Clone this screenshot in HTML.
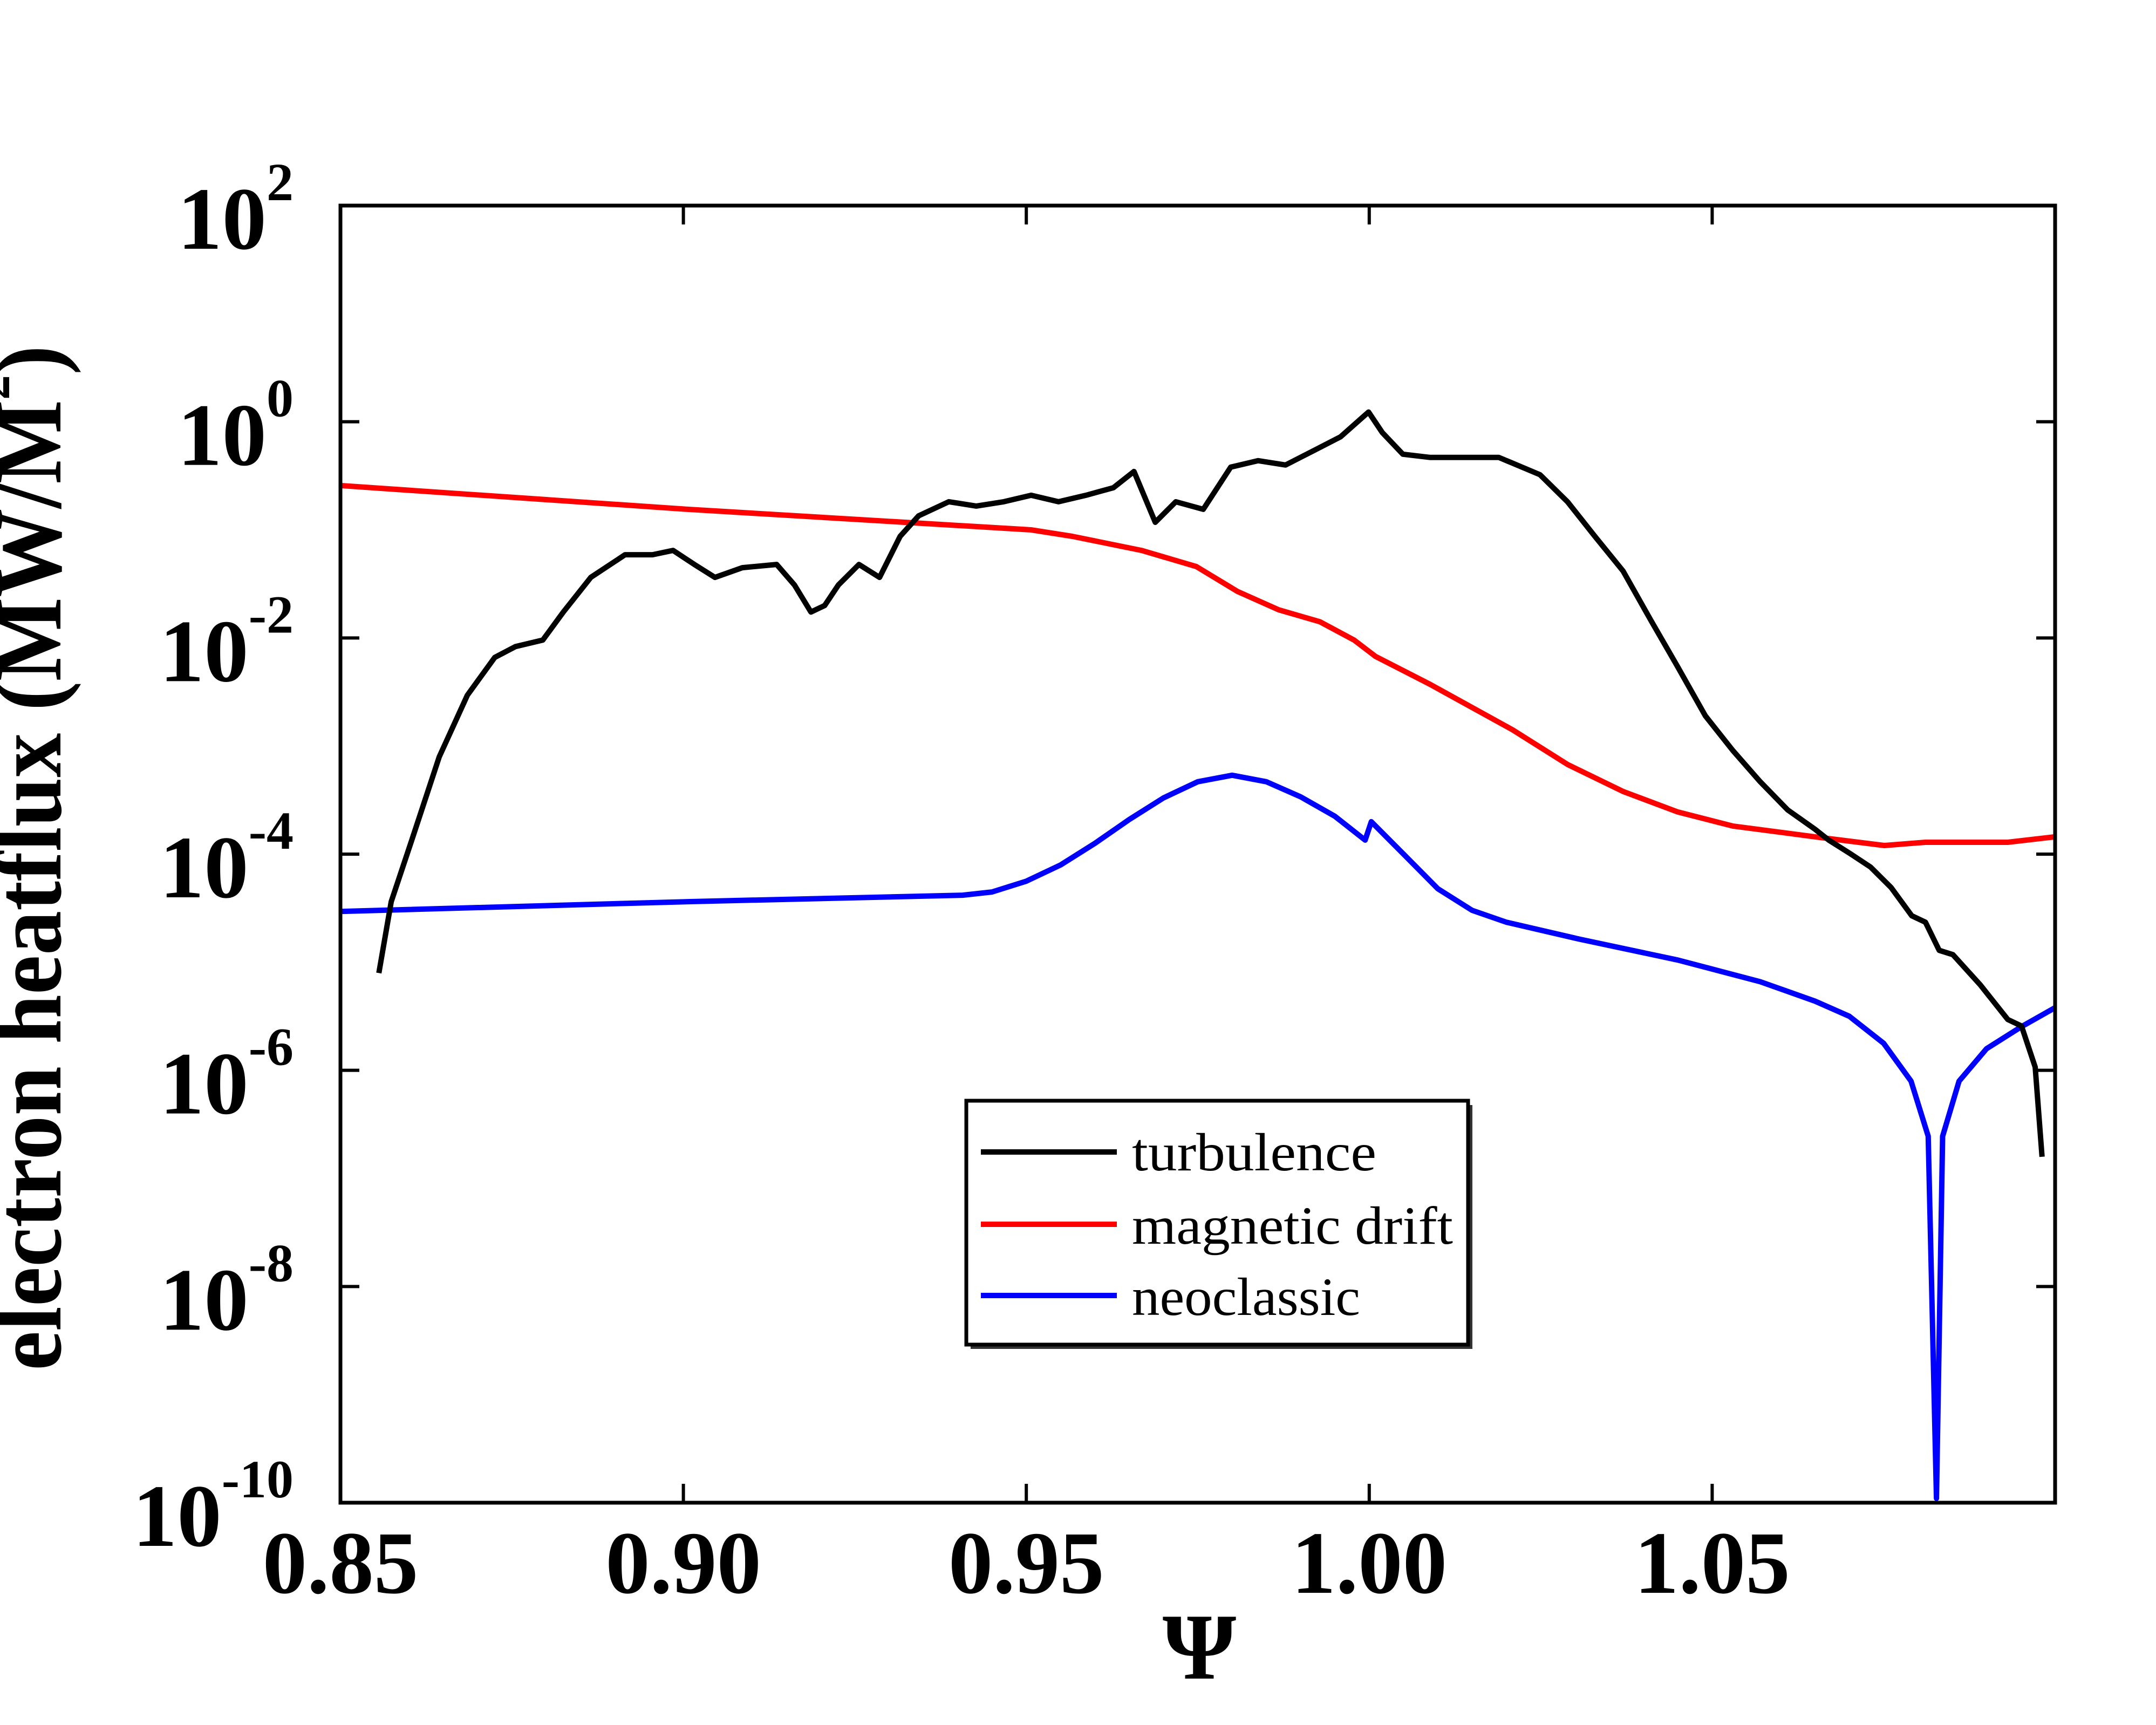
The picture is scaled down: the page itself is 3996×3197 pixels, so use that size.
<!DOCTYPE html>
<html><head><meta charset="utf-8"><style>
html,body{margin:0;padding:0;background:#fff;}
svg{display:block;}
text{font-family:"Liberation Serif",serif;}
</style></head><body>
<svg id="chart" width="3996" height="3197" viewBox="0 0 3996 3197" xmlns="http://www.w3.org/2000/svg">
<rect x="0" y="0" width="3996" height="3197" fill="#fff"/>
<g id="plot"></g>
<g id="axes"></g>
<text transform="translate(112,1590) rotate(-90)" text-anchor="middle" font-weight="bold" font-size="178" textLength="1900" lengthAdjust="spacingAndGlyphs">electron heatflux (MW/M<tspan font-size="100" dy="-95">2</tspan><tspan dy="95">)</tspan></text>
<text x="2223" y="3111" text-anchor="middle" font-weight="bold" font-size="175">Ψ</text>
<g>
  <rect x="1799" y="2048" width="930" height="452" fill="#333"/>
  <rect x="1791" y="2040" width="930" height="452" fill="#fff" stroke="#000" stroke-width="7"/>
  <line x1="1818" y1="2135" x2="2070" y2="2135" stroke="#000" stroke-width="10"/>
  <text x="2098" y="2169" font-size="100" textLength="453" lengthAdjust="spacingAndGlyphs">turbulence</text>
  <line x1="1818" y1="2269" x2="2070" y2="2269" stroke="#ff0000" stroke-width="10"/>
  <text x="2098" y="2305" font-size="100" textLength="595" lengthAdjust="spacingAndGlyphs">magnetic drift</text>
  <line x1="1818" y1="2401" x2="2070" y2="2401" stroke="#0000ff" stroke-width="10"/>
  <text x="2098" y="2437" font-size="100" textLength="423" lengthAdjust="spacingAndGlyphs">neoclassic</text>
</g>
</svg>
<script>
const xTicks = [0.85, 0.90, 0.95, 1.00, 1.05];
const xTickLabels = ["0.85", "0.90", "0.95", "1.00", "1.05"];
const yTickExps = [2, 0, -2, -4, -6, -8, -10];
const turbX = [0.8556,0.8574,0.8604,0.8644,0.8685,0.8725,0.8755,0.8795,0.8825,0.8865,0.8915,0.8955,0.8985,0.9016,0.9046,0.9086,0.9136,0.9162,0.9186,0.9206,0.9226,0.9256,0.9286,0.9316,0.9343,0.9387,0.9427,0.9467,0.9507,0.9547,0.9587,0.9627,0.9657,0.9688,0.9718,0.9758,0.9798,0.9838,0.9878,0.9918,0.9958,0.9999,1.0019,1.0049,1.0089,1.0189,1.0249,1.0289,1.0329,1.0370,1.0410,1.0450,1.0490,1.0530,1.0570,1.0610,1.0650,1.0670,1.0700,1.0731,1.0761,1.0791,1.0811,1.0831,1.0851,1.0891,1.0931,1.0951,1.0971,1.0981];
const turbLog = [-5.10,-4.44,-3.87,-3.10,-2.53,-2.18,-2.08,-2.02,-1.76,-1.44,-1.23,-1.23,-1.19,-1.32,-1.44,-1.35,-1.32,-1.51,-1.76,-1.70,-1.51,-1.32,-1.44,-1.06,-0.87,-0.74,-0.78,-0.74,-0.68,-0.74,-0.68,-0.61,-0.46,-0.93,-0.74,-0.81,-0.42,-0.36,-0.40,-0.27,-0.14,0.09,-0.10,-0.30,-0.33,-0.33,-0.49,-0.74,-1.06,-1.38,-1.83,-2.27,-2.72,-3.04,-3.33,-3.59,-3.77,-3.87,-3.99,-4.12,-4.31,-4.57,-4.63,-4.89,-4.93,-5.21,-5.53,-5.59,-5.97,-6.80];
const driftX = [0.85,0.9006,0.9507,0.9567,0.9668,0.9748,0.9808,0.9868,0.9928,0.9978,1.0009,1.0089,1.0209,1.0289,1.0370,1.0450,1.0530,1.0650,1.0751,1.0811,1.0931,1.10];
const driftLog = [-0.59,-0.81,-1.00,-1.06,-1.19,-1.34,-1.57,-1.74,-1.85,-2.02,-2.17,-2.43,-2.85,-3.17,-3.42,-3.61,-3.74,-3.84,-3.92,-3.89,-3.89,-3.84];
const neoX = [0.85,0.9006,0.9407,0.945,0.950,0.955,0.960,0.965,0.970,0.975,0.980,0.985,0.990,0.995,0.9994,1.0003,1.005,1.010,1.015,1.020,1.0309,1.0450,1.0570,1.065,1.070,1.075,1.079,1.0815,1.0827,1.0836,1.086,1.090,1.095,1.10];
const neoLog = [-4.53,-4.44,-4.38,-4.35,-4.25,-4.10,-3.90,-3.68,-3.48,-3.33,-3.27,-3.33,-3.47,-3.65,-3.87,-3.70,-4.00,-4.32,-4.52,-4.63,-4.79,-4.98,-5.18,-5.36,-5.50,-5.75,-6.10,-6.61,-9.96,-6.61,-6.10,-5.80,-5.60,-5.42];

const NS = "http://www.w3.org/2000/svg";
const L = 631, R = 3809, T = 381, B = 2785;
const xMin = 0.85, xMax = 1.10, yMin = -10, yMax = 2;
function sx(v){ return L + (v - xMin) / (xMax - xMin) * (R - L); }
function sy(lg){ return B - (lg - yMin) / (yMax - yMin) * (B - T); }
function mk(tag, attrs){ const e = document.createElementNS(NS, tag); for (const k in attrs) e.setAttribute(k, attrs[k]); return e; }

const plot = document.getElementById('plot');
const axes = document.getElementById('axes');
const clip = mk('clipPath', {id:'clipP'});
clip.appendChild(mk('rect', {x:L, y:T, width:R-L, height:B-T}));
document.getElementById('chart').appendChild(clip);
plot.setAttribute('clip-path', 'url(#clipP)');

function series(xs, ys, color, name){
  const d = xs.map((x,i)=> (i?'L':'M') + sx(x).toFixed(1) + ',' + sy(ys[i]).toFixed(1)).join(' ');
  const p = mk('path', {d:d, fill:'none', stroke:color, 'stroke-width':10, 'stroke-linejoin':'round'});
  
  
  plot.appendChild(p);
}
series(driftX, driftLog, '#ff0000', 'magnetic-drift-line');
series(neoX, neoLog, '#0000ff', 'neoclassic-line');
series(turbX, turbLog, '#000000', 'turbulence-line');

const frame = mk('rect', {x:L, y:T, width:R-L, height:B-T, fill:'none', stroke:'#000', 'stroke-width':7});


axes.appendChild(frame);

xTicks.forEach((v,i)=>{
  const x = sx(v);
  const t1 = mk('line', {x1:x, y1:B, x2:x, y2:B-35, stroke:'#000', 'stroke-width':6});
  
  
  axes.appendChild(t1);
  const t2 = mk('line', {x1:x, y1:T, x2:x, y2:T+35, stroke:'#000', 'stroke-width':6});
  
  
  axes.appendChild(t2);
  const lb = mk('text', {x:x, y:2952, 'text-anchor':'middle', 'font-weight':'bold', 'font-size':165});
  lb.textContent = xTickLabels[i];
  
  
  axes.appendChild(lb);
});

yTickExps.forEach((e)=>{
  const y = sy(e);
  const t1 = mk('line', {x1:L, y1:y, x2:L+35, y2:y, stroke:'#000', 'stroke-width':6});
  
  
  axes.appendChild(t1);
  const t2 = mk('line', {x1:R, y1:y, x2:R-35, y2:y, stroke:'#000', 'stroke-width':6});
  
  
  axes.appendChild(t2);
  const lb = mk('text', {x:544, y:y+80, 'text-anchor':'end', 'font-weight':'bold', 'font-size':165});
  
  
  lb.appendChild(document.createTextNode('10'));
  const sup = mk('tspan', {'font-size':100, dy:-90});
  sup.textContent = String(e);
  lb.appendChild(sup);
  axes.appendChild(lb);
});
</script>
</body></html>
